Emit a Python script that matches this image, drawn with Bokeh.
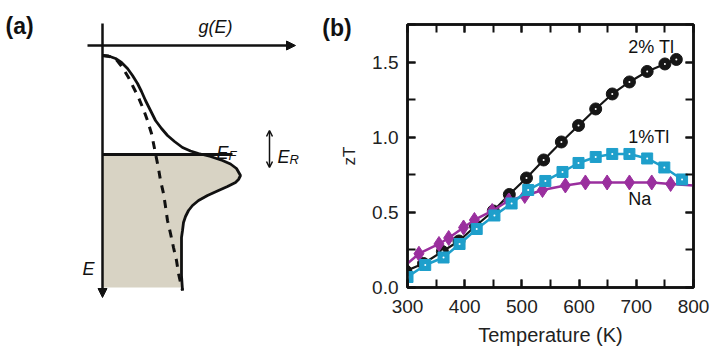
import numpy as np
from bokeh.plotting import figure
from bokeh.layouts import row, column
from bokeh.models import (Range1d, Arrow, NormalHead, OpenHead, Label, LinearAxis,
                          SingleIntervalTicker, PrintfTickFormatter)
from bokeh.embed import file_html
from bokeh.resources import INLINE

FONT = "Liberation Sans"

# ---------------- panel (a) schematic data: g(E) vs E ----------------
solid_g = [0, 6, 13, 19, 25, 30, 35, 39, 43, 48, 53, 59, 65, 72, 80, 88, 96, 108, 120, 128,
           134, 138, 136, 133, 125, 116, 105, 96, 90, 86, 83, 81, 80, 79, 79, 79, 80]
solid_E = [10, 10.5, 13, 17, 23, 30, 38, 46, 55, 65, 75, 83, 90, 96, 102, 105.5, 108, 111, 115, 118.5,
           123, 130, 134, 137, 141, 145, 150, 155, 160, 165, 171, 177, 185, 192, 215, 230, 245]
dash_g = [0, 7, 13, 20, 26, 31, 36, 41, 45, 49, 51, 53, 55, 56, 58, 61, 63, 65, 68, 71, 74, 76, 78, 80]
dash_E = [10, 11, 13, 22, 32, 42, 52, 64, 75, 88, 98, 108, 118, 123, 135, 148, 161, 175, 188, 202, 215, 228, 237, 245]
E_fermi = 109
E_bottom = 242
g_fermi_end = 130

# ---------------- panel (b) data ----------------
T_tl2 = [297, 328, 361, 390, 419, 450, 478, 508, 538, 569, 599, 629, 658, 688, 719, 750, 770]
zt_tl2 = [0.11, 0.16, 0.24, 0.31, 0.41, 0.51, 0.62, 0.73, 0.85, 0.97, 1.08, 1.19, 1.29, 1.37, 1.44, 1.49, 1.52]
T_tl1 = [300, 331, 363, 391, 421, 452, 482, 511, 541, 571, 599, 629, 658, 688, 719, 749, 780]
zt_tl1 = [0.07, 0.15, 0.20, 0.29, 0.39, 0.48, 0.56, 0.65, 0.71, 0.77, 0.83, 0.87, 0.89, 0.89, 0.86, 0.80, 0.72]
T_na = [320, 355, 372, 398, 417, 448, 477, 505, 536, 576, 611, 649, 688, 727, 760]
zt_na = [0.225, 0.29, 0.33, 0.40, 0.45, 0.51, 0.58, 0.61, 0.65, 0.68, 0.70, 0.70, 0.70, 0.70, 0.69]
T_na_line = [300] + T_na + [800]
zt_na_line = [0.16] + zt_na + [0.68]
series_labels = ["2% Tl", "1%Tl", "Na"]
label_T = [686, 686, 686]
label_zt = [1.6, 1.0, 0.59]

BLACK = "#161616"
CYAN = "#1e9fcb"
MAGENTA = "#9a2f9e"

# ================= panel (a) =================
pa = figure(width=300, height=357, x_range=Range1d(-102, 198), y_range=Range1d(312, -45),
            output_backend="svg", toolbar_location=None, x_axis_location=None,
            y_axis_location=None, min_border=0)
pa.grid.visible = False
pa.outline_line_color = None

# shaded filled states below E_F
sg = np.array(solid_g, float)
sE = np.array(solid_E, float)
idx = np.where(sE >= E_fermi)[0][0]
g_cross = sg[idx - 1] + (sg[idx] - sg[idx - 1]) * (E_fermi - sE[idx - 1]) / (sE[idx] - sE[idx - 1])
mask = (sE > E_fermi) & (sE <= E_bottom)
poly_g = [0, g_cross] + list(sg[mask]) + [sg[mask][-1], 0]
poly_E = [E_fermi, E_fermi] + list(sE[mask]) + [E_bottom, E_bottom]
pa.patch(poly_g, poly_E, fill_color="#d8d3c4", line_color=None)

pa.line(dash_g, dash_E, line_color="#111111", line_width=3, line_dash="8 7")
pa.line(solid_g, solid_E, line_color="#111111", line_width=2.8)

# Fermi level line
pa.segment(x0=[0], y0=[E_fermi], x1=[g_fermi_end], y1=[E_fermi], line_color="#111111", line_width=3)

# axes arrows
pa.add_layout(Arrow(x_start=-15, y_start=0, x_end=193, y_end=0, line_width=2.5,
                    line_color="#111111",
                    end=NormalHead(size=9, fill_color="#111111", line_color="#111111")))
pa.add_layout(Arrow(x_start=0, y_start=-22, x_end=0, y_end=252, line_width=2.5,
                    line_color="#111111",
                    end=NormalHead(size=9, fill_color="#111111", line_color="#111111")))
# E_R double arrow
pa.add_layout(Arrow(x_start=167, y_start=85, x_end=167, y_end=122, line_width=1.5,
                    line_color="#111111",
                    start=OpenHead(size=6, line_color="#111111", line_width=1.5),
                    end=OpenHead(size=6, line_color="#111111", line_width=1.5)))

def make_label(x, y, text, size, style="normal", align="left", baseline="middle", **kw):
    return Label(x=x, y=y, text=text, text_font=FONT, text_font_size=size,
                 text_font_style=style, text_align=align, text_baseline=baseline,
                 text_color="#111111", **kw)

def lab(fig, *args, **kw):
    fig.add_layout(make_label(*args, **kw))

lab(pa, -97, -20, "(a)", "23px", "bold")
lab(pa, 96, -19, "g(E)", "18px", "italic")
lab(pa, -20, 223, "E", "18px", "italic")
lab(pa, 114, 107, "E", "18px", "italic", baseline="alphabetic")
lab(pa, 126, 110, "F", "13px", "italic", baseline="alphabetic")
lab(pa, 175, 111, "E", "18px", "italic", baseline="alphabetic")
lab(pa, 187, 114, "R", "13px", "italic", baseline="alphabetic")

# ================= panel (b) =================
pb = figure(width=416, height=357, x_range=Range1d(300, 800), y_range=Range1d(0, 1.753),
            output_backend="svg", toolbar_location=None,
            min_border_left=107, min_border_right=23, min_border_top=24, min_border_bottom=70)
pb.grid.visible = False
pb.outline_line_color = "#111111"
pb.outline_line_width = 2.5

xt = SingleIntervalTicker(interval=100, num_minor_ticks=2)
yt = SingleIntervalTicker(interval=0.5, num_minor_ticks=2)

def style_axis(ax, show_labels):
    ax.axis_line_width = 2.5
    ax.axis_line_color = "#111111"
    ax.major_tick_in = 8
    ax.major_tick_out = 0
    ax.minor_tick_in = 8
    ax.minor_tick_out = 0
    ax.major_tick_line_width = 2
    ax.minor_tick_line_width = 2
    ax.major_tick_line_color = "#111111"
    ax.minor_tick_line_color = "#111111"
    ax.major_label_text_font = FONT
    if show_labels:
        ax.major_label_text_font_size = "19px"
        ax.major_label_text_color = "#222222"
    else:
        ax.major_label_text_font_size = "1px"
        ax.major_label_text_color = None

pb.xaxis.ticker = xt
pb.yaxis.ticker = yt
pb.yaxis.formatter = PrintfTickFormatter(format="%.1f")
style_axis(pb.xaxis[0], True)
style_axis(pb.yaxis[0], True)
pb.xaxis.major_label_standoff = 12
pb.yaxis.major_label_standoff = 9
pb.xaxis.axis_label = "Temperature (K)"
pb.yaxis.axis_label = "zT"
pb.xaxis.axis_label_text_font = FONT
pb.yaxis.axis_label_text_font = FONT
pb.xaxis.axis_label_text_font_style = "normal"
pb.yaxis.axis_label_text_font_style = "normal"
pb.xaxis.axis_label_text_font_size = "20px"
pb.yaxis.axis_label_text_font_size = "17px"
pb.xaxis.axis_label_standoff = 8
pb.yaxis.axis_label_standoff = 10
pb.xaxis.axis_label_text_color = "#222222"
pb.yaxis.axis_label_text_color = "#222222"

top_ax = LinearAxis(ticker=SingleIntervalTicker(interval=100, num_minor_ticks=2))
right_ax = LinearAxis(ticker=SingleIntervalTicker(interval=0.5, num_minor_ticks=2))
style_axis(top_ax, False)
style_axis(right_ax, False)
top_ax.major_label_standoff = 0
right_ax.major_label_standoff = 0
pb.add_layout(top_ax, "above")
pb.add_layout(right_ax, "right")

# 2% Tl
pb.line(T_tl2, zt_tl2, line_color=BLACK, line_width=2.2)
pb.scatter(T_tl2, zt_tl2, marker="circle", size=12, fill_color=BLACK, line_color=BLACK)
pb.scatter(T_tl2, zt_tl2, marker="circle", size=2, fill_color="white", line_color=None)
# Na
pb.line(T_na_line, zt_na_line, line_color=MAGENTA, line_width=2.5)
pb.scatter(T_na, zt_na, marker="diamond", size=15, fill_color=MAGENTA, line_color=MAGENTA)
# 1% Tl
pb.line(T_tl1, zt_tl1, line_color=CYAN, line_width=2.5)
pb.scatter(T_tl1, zt_tl1, marker="square", size=11, fill_color=CYAN, line_color=CYAN)
pb.scatter(T_tl1, zt_tl1, marker="circle", size=2, fill_color="white", line_color=None)

for t, xv, yv in zip(series_labels, label_T, label_zt):
    lab(pb, xv, yv, t, "18px")

# panel tag: placed in the left side panel so it is not clipped to the frame
pb.add_layout(make_label(151, 1.733, "(b)", "23px", "bold"), "left")

layout = row(column(pa), column(pb))
open("out.html", "w").write(file_html(layout, INLINE))
